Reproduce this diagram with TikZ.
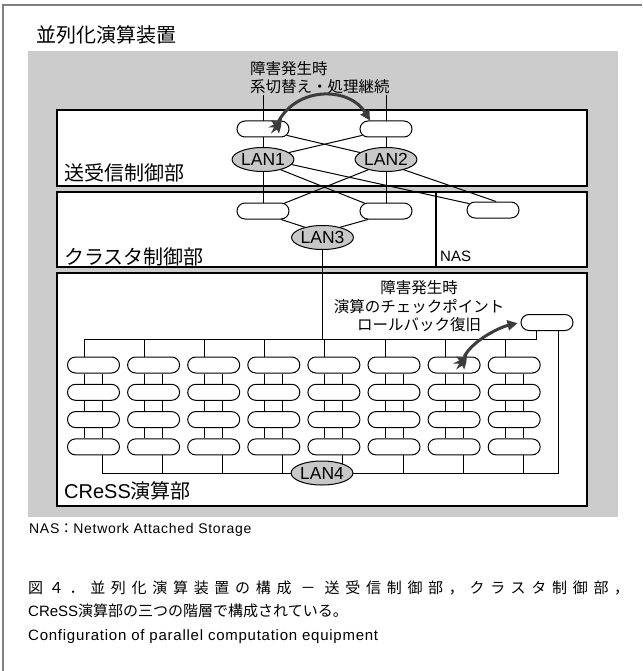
\documentclass[tikz,border=0pt]{standalone}
\usepackage{fontspec}
\setmainfont{Liberation Sans}
\newfontfamily\jp{Noto Sans CJK JP}
\newfontfamily\jpsp[LetterSpace=38]{Noto Sans CJK JP}
\newfontfamily\lsp[LetterSpace=5]{Liberation Sans}
\usetikzlibrary{shapes.misc,shapes.geometric,arrows.meta,calc}
\definecolor{bggray}{HTML}{CCCCCC}
\definecolor{langray}{HTML}{C8C8C8}
\definecolor{arrgray}{HTML}{3C3C3C}
\definecolor{framegray}{HTML}{7F7F7F}
\pgfdeclarelayer{bg}
\pgfdeclarelayer{wires}
\pgfsetlayers{bg,wires,main}
\begin{document}
\begin{tikzpicture}[x=1pt,y=-1pt,
  unit/.style={draw,line width=1pt,rounded rectangle,fill=white,minimum width=52pt,minimum height=16pt,inner sep=0pt},
  lan/.style={draw,line width=1pt,ellipse,fill=langray,minimum width=58pt,minimum height=24pt,inner sep=0pt,font=\fontsize{17.5}{17.5}\selectfont},
  sect/.style={draw,line width=1.2pt,fill=white},
  wire/.style={line width=1pt},
  jlabel/.style={font=\jp\fontsize{20}{24}\selectfont,anchor=west,inner sep=0pt},
  note/.style={font=\jp\fontsize{15.5}{18.5}\selectfont,inner sep=0pt},
  failarrow/.style={line width=3pt,draw=arrgray,-{Triangle[length=10pt,width=10pt]}},
  burst/.style={fill=arrgray,draw=none}
]
\useasboundingbox (0,0) rectangle (642,671);

% layout
\begin{pgfonlayer}{bg}
\fill[white] (0,0) rectangle (642,671);
\draw[framegray,line width=1.5pt] (3,671) -- (3,5) -- (642,5);
\fill[bggray] (28,51) rectangle (618,517);
\draw[sect] (57,110) rectangle (587,186);
\draw[sect] (57,192) rectangle (587,267);
\draw[line width=1.2pt] (436,192) -- (436,267);
\draw[sect] (57,273) rectangle (587,506);
\end{pgfonlayer}

% nodes
\node[unit] (tA) at (263,129) {};
\node[unit] (tB) at (386,129) {};
\node[lan] (LAN1) at (263,159.5) {LAN1};
\node[lan] (LAN2) at (386,159.5) {LAN2};
\node[unit] (cA) at (263,211) {};
\node[unit] (cB) at (386,211) {};
\node[unit] (nas) at (493,210) {};
\node[lan] (LAN3) at (322.5,237.5) {LAN3};
\node[unit] (tr) at (547,322.5) {};
\foreach \i in {1,...,8}{
  \foreach \j in {1,...,4}{
    \node[unit] (n\i-\j) at ({93.5+60.1*(\i-1)},{365+27.3*(\j-1)}) {};
  }
}
\node[lan] (LAN4) at (322,473) {LAN4};

\coordinate (vA) at (263,95);
\coordinate (vB) at (386,95);
\coordinate (busTL) at (84.5,339);
\coordinate (busBL) at (102.5,473);

\begin{pgfonlayer}{wires}
\draw[wire] (vA) -- (cA.north);
\draw[wire] (vB) -- (cB.north);
\draw[wire] (tA.-15) -- (LAN2.165);
\draw[wire] (tB.195) -- (LAN1.15);
\draw[wire] (LAN1.-30) -- (cB.160);
\draw[wire] (LAN1.-10) -- (nas.165);
\draw[wire] (LAN2.210) -- (cA.20);
\draw[wire] (LAN2.-30) -- (nas.70);
\draw[wire] (cA.-25) -- (LAN3.150);
\draw[wire] (cB.205) -- (LAN3.30);
\draw[wire] (LAN3.south) -- (LAN3.south |- busTL);
\draw[wire] (busTL) -| ($(tr.south)+(-11,0)$);
\draw[wire] (busBL) -| ($(tr.south)+(11,0)$);
\foreach \i in {1,...,8}{
  \draw[wire] ($(n\i-1.north)+(-9,0)$) -- ($(n\i-1.north)+(-9,-18)$);
  \foreach \j/\k in {1/2,2/3,3/4}{
    \draw[wire] ($(n\i-\j.south)+(-9,0)$) -- ($(n\i-\k.north)+(-9,0)$);
    \draw[wire] ($(n\i-\j.south)+(9,0)$) -- ($(n\i-\k.north)+(9,0)$);
  }
  \draw[wire] ($(n\i-4.south)+(9,0)$) -- ($(n\i-4.south)+(9,18.1)$);
}
\end{pgfonlayer}

% failure arrows
\draw[failarrow] (tA.28) .. controls +(20,-35) and +(-20,-33) .. (tB.152);
\fill[burst] ($(tA.28)+(3,-3)$) -- ++(-5,4) -- ++(-6,-1) -- ++(3,4) -- ++(-6,3) -- ++(6,0) -- ++(-3,6) -- ++(6,-4) -- ++(2,4) -- ++(2,-7) -- cycle;
\draw[failarrow,shorten >=3pt] (n7-1.40) .. controls +(10,-18) and +(-18,4) .. (tr.west);
\fill[burst] ($(n7-1.40)+(3,-3)$) -- ++(-5,4) -- ++(-6,-1) -- ++(3,4) -- ++(-6,3) -- ++(6,0) -- ++(-3,6) -- ++(6,-4) -- ++(2,4) -- ++(2,-7) -- cycle;

% texts
\node[jlabel] (title) at (36,35) {並列化演算装置};
\node[note,anchor=north west,align=left] (n1) at (250,61) {障害発生時\\系切替え・処理継続};
\node[jlabel] (l1) at (64,173) {送受信制御部};
\node[jlabel] (l2) at (64,257) {クラスタ制御部};
\node[anchor=west,inner sep=0pt,font=\fontsize{15}{18}\selectfont] (l3) at (440,256) {NAS};
\node[note,align=center] (n2) at (419,306.5) {障害発生時\\演算のチェックポイント\\ロールバック復旧};
\node[anchor=west,inner sep=0pt,font=\fontsize{20}{24}\selectfont] (l4) at (64,491) {CReSS{\jp 演算部}};
\node[anchor=west,inner sep=0pt,font=\lsp\fontsize{14}{16}\selectfont] (leg) at (29,530) {NAS{\jp ：}Network Attached Storage};
\node[anchor=west,inner sep=0pt,font=\jpsp\fontsize{15}{18}\selectfont] (cap1) at (28,588) {図４．並列化演算装置の構成 － 送受信制御部，クラスタ制御部，};
\node[anchor=west,inner sep=0pt,font=\fontsize{15}{18}\selectfont] (cap2) at (28,611) {CReSS{\jp 演算部の三つの階層で構成されている。}};
\node[anchor=west,inner sep=0pt,font=\lsp\fontsize{15}{18}\selectfont] (cap3) at (28,637) {Configuration of parallel computation equipment};
\end{tikzpicture}
\end{document}
